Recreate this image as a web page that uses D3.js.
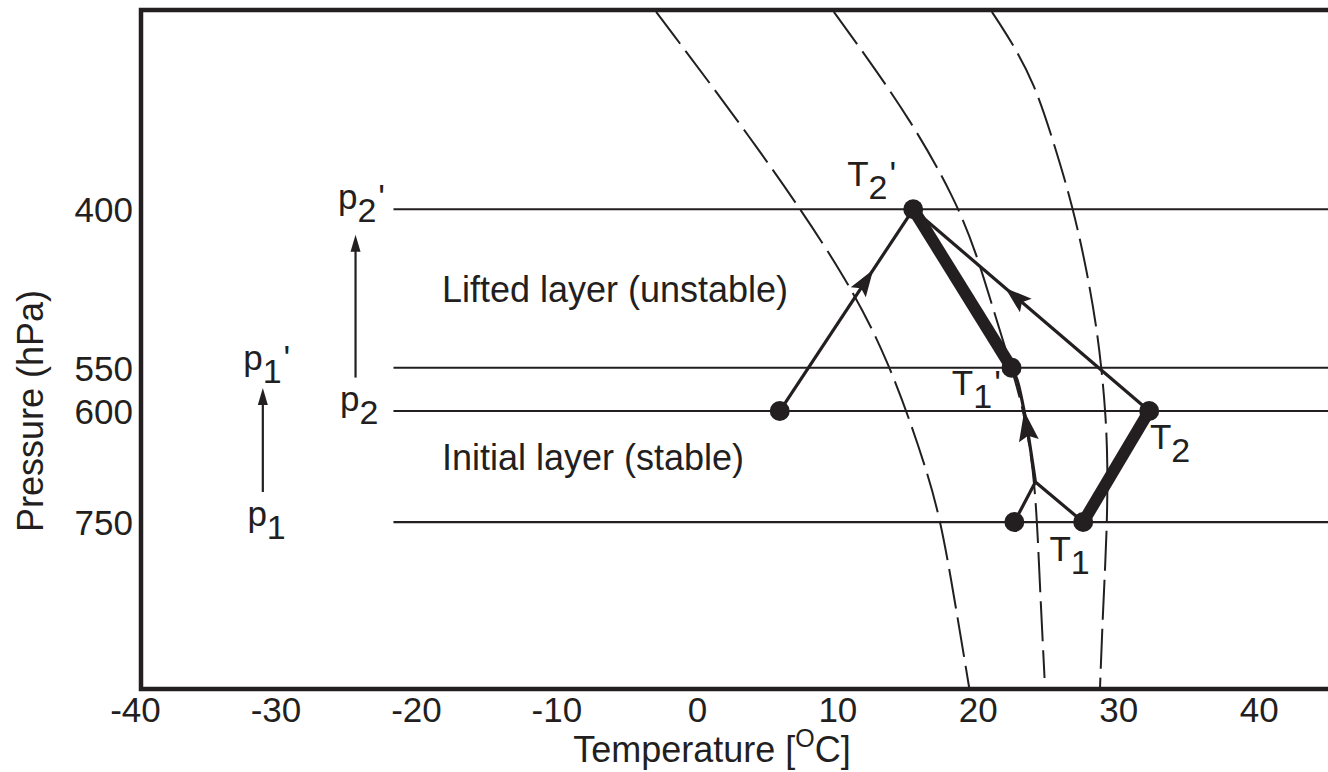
<!DOCTYPE html>
<html>
<head>
<meta charset="utf-8">
<title>Lifted layer stability</title>
<script src="https://d3js.org/d3.v7.min.js"></script>
<style>
body { margin: 0; background: #fff; }
svg text { font-family: 'Liberation Sans', Arial, sans-serif; }
</style>
</head>
<body>
<svg id="chart" width="1328" height="772"></svg>
<script>
// tick values
var tempTicks = [-40, -30, -20, -10, 0, 10, 20, 30, 40];
var pressTicks = [400, 550, 600, 750];
var layerLevels = [400, 550, 600, 750];

// dashed moist adiabats, [T degC, p hPa]
var adiabat1 = [[-2.9, 269], [4.5, 355], [10.7, 459], [13.7, 545], [15.9, 649], [17.15, 729], [18.0, 826], [19.4, 1049]];
var adiabat2 = [[9.75, 269], [11.6, 289], [15.2, 334], [18.35, 391], [19.9, 437], [21.05, 487], [22.4, 550], [23.35, 605], [24.1, 692], [24.4, 844], [24.75, 1026]];
var adiabat3 = [[21.0, 269], [22.35, 285], [24.0, 310], [25.35, 348], [26.75, 397], [27.8, 455], [28.45, 507], [28.8, 550], [29.1, 603], [29.25, 666], [29.2, 762], [28.9, 900], [28.7, 1045]];

// sounding points [T, p]
var pA   = [5.9, 600];    // top of initial layer, dew point side
var pT2b = [15.4, 400];   // T2'
var pT1b = [22.4, 550];   // T1'
var pT2  = [32.2, 600];   // T2
var pT1  = [27.5, 750];   // T1
var pTd  = [22.6, 750];   // dew point at base
var pLcl = [24.1, 692];   // lifting condensation level
var moistPath = [[24.1, 692], [23.35, 605], [22.8, 564], [22.4, 550]];
var moistArrowTip = [23.3, 600];

// lift arrows on the left [T, p from, p to]
var liftArrows = [[-30.9, 706, 573], [-24.3, 561, 421]];

// labels [base, subscript, prime, T, p]
var symLabels = [
  ['p', '2', true, -25.55, 400],
  ['p', '1', true, -32.3, 553],
  ['p', '2', false, -25.4, 600],
  ['p', '1', false, -32.0, 756],
  ['T', '2', true, 10.7, 382],
  ['T', '1', true, 18.15, 581],
  ['T', '2', false, 32.25, 647],
  ['T', '1', false, 25.1, 811]
];
var layerNotes = [['Lifted layer (unstable)', -18.15, 482], ['Initial layer (stable)', -18.15, 675]];
var layerLineStart = -21.6;

var ink = '#231f20';
var margin = {left: 141, top: 10, bottom: 689};
var W = 1328;

var svg = d3.select('#chart');

var x = d3.scaleLinear().domain([-40, 45]).range([135, 1329]);
var y = d3.scaleLog().domain([1049, 268]).range([margin.bottom, margin.top]);

function px(d) { return [x(d[0]), y(d[1])]; }

// layer lines
svg.append('g').selectAll('line')
  .data(layerLevels)
  .enter().append('line')
    .attr('x1', x(layerLineStart))
    .attr('x2', W + 2)
    .attr('y1', function(d) { return y(d); })
    .attr('y2', function(d) { return y(d); })
    .attr('stroke', ink)
    .attr('stroke-width', 2.2);

// dashed adiabats
var smooth = d3.line()
  .x(function(d) { return x(d[0]); })
  .y(function(d) { return y(d[1]); })
  .curve(d3.curveBasis);
var curve = d3.line()
  .x(function(d) { return x(d[0]); })
  .y(function(d) { return y(d[1]); })
  .curve(d3.curveCatmullRom);

svg.append('g').selectAll('path')
  .data([adiabat1, adiabat2, adiabat3])
  .enter().append('path')
    .attr('d', smooth)
    .attr('fill', 'none')
    .attr('stroke', ink)
    .attr('stroke-width', 2)
    .attr('stroke-dasharray', '40,9');

// thin path lines
var thin = svg.append('g')
  .attr('fill', 'none')
  .attr('stroke', ink)
  .attr('stroke-width', 3.2)
  .attr('stroke-linejoin', 'miter');
[[pA, pT2b], [pT2, pT2b], [pT1, pLcl], [pTd, pLcl]].forEach(function(s) {
  thin.append('path').attr('d', d3.line()([px(s[0]), px(s[1])]));
});
thin.append('path').attr('d', curve(moistPath));

// thick lines
svg.append('g').selectAll('path')
  .data([[pT2b, pT1b], [pT1, pT2]])
  .enter().append('path')
    .attr('d', function(s) { return d3.line()([px(s[0]), px(s[1])]); })
    .attr('stroke', ink)
    .attr('stroke-width', 12);

// arrow heads
function arrowHead(tip, from, len, halfW, notch) {
  var dx = tip[0] - from[0], dy = tip[1] - from[1];
  var L = Math.sqrt(dx * dx + dy * dy);
  var ux = dx / L, uy = dy / L, nx = -uy, ny = ux;
  var bx = tip[0] - ux * len, by = tip[1] - uy * len;
  var mx = tip[0] - ux * (len - notch), my = tip[1] - uy * (len - notch);
  svg.append('path')
    .attr('d', 'M' + tip[0] + ',' + tip[1] +
      'L' + (bx + nx * halfW) + ',' + (by + ny * halfW) +
      'L' + mx + ',' + my +
      'L' + (bx - nx * halfW) + ',' + (by - ny * halfW) + 'Z')
    .attr('fill', ink);
}
function along(a, b, f) {
  var A = px(a), B = px(b);
  return [A[0] + (B[0] - A[0]) * f, A[1] + (B[1] - A[1]) * f];
}
arrowHead(along(pA, pT2b, 0.70), px(pA), 27, 9, 5);
arrowHead(along(pT2, pT2b, 0.61), px(pT2), 27, 9, 5);
arrowHead(px(moistArrowTip), px(moistPath[0]), 30, 10, 5);

// lift arrows
liftArrows.forEach(function(a) {
  svg.append('line')
    .attr('x1', x(a[0])).attr('x2', x(a[0]))
    .attr('y1', y(a[1])).attr('y2', y(a[2]) + 10)
    .attr('stroke', ink).attr('stroke-width', 2.2);
  arrowHead([x(a[0]), y(a[2])], [x(a[0]), y(a[1])], 17, 5, 0);
});

// dots
svg.append('g').selectAll('circle')
  .data([pA, pT2b, pT1b, pT2, pT1, pTd])
  .enter().append('circle')
    .attr('cx', function(d) { return x(d[0]); })
    .attr('cy', function(d) { return y(d[1]); })
    .attr('r', 10)
    .attr('fill', ink);

// frame
svg.append('path')
  .attr('d', 'M' + (W + 5) + ',' + margin.top + 'H' + margin.left + 'V' + margin.bottom + 'H' + (W + 5))
  .attr('fill', 'none')
  .attr('stroke', ink)
  .attr('stroke-width', 4.5);

// axes
var xAxis = svg.append('g')
  .attr('transform', 'translate(0,' + margin.bottom + ')')
  .call(d3.axisBottom(x).tickValues(tempTicks).tickFormat(function(d) { return String(d); })
    .tickSize(0).tickPadding(8));
xAxis.select('.domain').remove();
xAxis.selectAll('text')
  .attr('font-size', 35)
  .attr('fill', ink)
  .attr('font-family', "'Liberation Sans', Arial, sans-serif");

var yAxis = svg.append('g')
  .attr('transform', 'translate(' + margin.left + ',0)')
  .call(d3.axisLeft(y).tickValues(pressTicks).tickFormat(function(d) { return String(d); })
    .tickSize(0).tickPadding(8));
yAxis.select('.domain').remove();
yAxis.selectAll('text')
  .attr('font-size', 35)
  .attr('dy', '0.36em')
  .attr('fill', ink)
  .attr('font-family', "'Liberation Sans', Arial, sans-serif");

// axis titles
var xt = svg.append('text')
  .attr('x', 712).attr('y', 762)
  .attr('text-anchor', 'middle')
  .attr('font-size', 36)
  .attr('fill', ink);
xt.append('tspan').text('Temperature [');
xt.append('tspan').attr('font-size', 25).attr('dy', -15).text('O');
xt.append('tspan').attr('dy', 15).text('C]');

svg.append('text')
  .attr('transform', 'translate(43,411) rotate(-90)')
  .attr('text-anchor', 'middle')
  .attr('font-size', 36)
  .attr('fill', ink)
  .text('Pressure (hPa)');

// symbol labels
symLabels.forEach(function(l) {
  var t = svg.append('text')
    .attr('x', x(l[3])).attr('y', y(l[4]))
    .attr('font-size', 35)
    .attr('fill', ink);
  t.append('tspan').text(l[0]);
  t.append('tspan').attr('font-size', 34).attr('dy', 13).text(l[1]);
  if (l[2]) t.append('tspan').attr('dy', -13).attr('dx', 2).text("'");
});

// layer notes
svg.append('g').selectAll('text')
  .data(layerNotes)
  .enter().append('text')
    .attr('x', function(d) { return x(d[1]); })
    .attr('y', function(d) { return y(d[2]); })
    .attr('font-size', 36)
    .attr('fill', ink)
    .text(function(d) { return d[0]; });
</script>
</body>
</html>
